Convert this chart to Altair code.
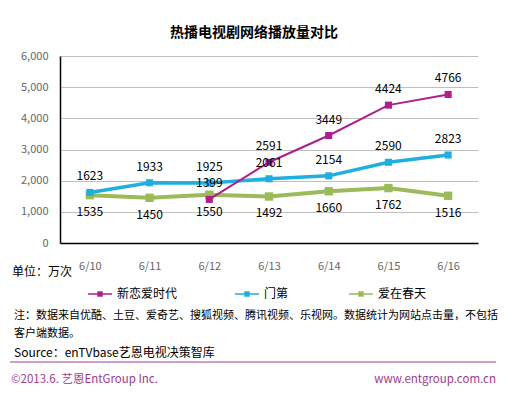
import altair as alt
import pandas as pd

dates = ["6/10", "6/11", "6/12", "6/13", "6/14", "6/15", "6/16"]
series = ["新恋爱时代", "门第", "爱在春天"]
xinlian = [None, None, 1399, 2591, 3449, 4424, 4766]
mendi = [1623, 1933, 1925, 2061, 2154, 2590, 2823]
aizai = [1535, 1450, 1550, 1492, 1660, 1762, 1516]
colors = ["#AE1F8D", "#1FAEE0", "#9BBB59"]
widths = [2, 3.5, 4]
label_dy = [-16, -16, 17]
y_ticks = [0, 1000, 2000, 3000, 4000, 5000, 6000]

title = "热播电视剧网络播放量对比"
unit = "单位：万次"
note1 = "注：数据来自优酷、土豆、爱奇艺、搜狐视频、腾讯视频、乐视网。数据统计为网站点击量，不包括"
note2 = "客户端数据。"
source = "Source：enTVbase艺恩电视决策智库"
foot_left = "©2013.6. 艺恩EntGroup Inc."
foot_right = "www.entgroup.com.cn"

rows = []
for s, vals in zip(series, [xinlian, mendi, aizai]):
    for d, v in zip(dates, vals):
        if v is not None:
            rows.append({"date": d, "series": s, "value": v})
df = pd.DataFrame(rows)

FONT = "Noto Sans CJK SC"
W, H = 418, 187

xenc = alt.X("date:N", sort=dates, scale=alt.Scale(type="point", padding=0.5),
             axis=alt.Axis(title=None, labelColor="#666666", labelFontSize=11, ticks=False,
                           domainColor="#000000", domainWidth=1.5, labelPadding=17,
                           labelAngle=0, labelFont=FONT, grid=False))
yenc = alt.Y("value:Q", scale=alt.Scale(domain=[0, 6000]),
             axis=alt.Axis(title=None, values=y_ticks, format=",.0f", labelColor="#666666",
                           labelFontSize=11, ticks=False, domainColor="#000000", domainWidth=1.5,
                           labelPadding=12, gridColor="#BFBFBF", gridWidth=1, labelFont=FONT))

layers = []
order = [2, 1, 0]
for i in order:
    s = series[i]
    base = alt.Chart(df).transform_filter(alt.datum.series == s).encode(x=xenc, y=yenc)
    layers.append(base.mark_line(color=colors[i], strokeWidth=widths[i]))
    layers.append(base.mark_square(color=colors[i], size=50 if i < 2 else 70, opacity=1))
for i in order:
    s = series[i]
    base = alt.Chart(df).transform_filter(alt.datum.series == s).encode(x=xenc, y=yenc)
    layers.append(base.mark_text(dy=label_dy[i], fontSize=12, color="#000000", font=FONT)
                  .encode(text="value:Q"))


def txt(t, x, y, size=12, color="#000000", align="left", weight="normal"):
    return alt.Chart(pd.DataFrame({"t": [t]})).mark_text(
        align=align, baseline="middle", fontSize=size, color=color, font=FONT, fontWeight=weight
    ).encode(x=alt.value(x), y=alt.value(y), text="t:N")


layers.append(txt(title, W / 2 - 15, -23, size=14, align="center", weight="bold"))
layers.append(txt(unit, -48, 216, size=12))
layers.append(txt(note1, -46, 260, size=11))
layers.append(txt(note2, -46, 278, size=11))
layers.append(txt(source, -46, 297, size=12))
layers.append(txt(foot_left, -49, 324, size=11.5, color="#9E3A8E"))
layers.append(txt(foot_right, 436, 324, size=11.5, color="#9E3A8E", align="right"))
layers.append(alt.Chart(pd.DataFrame({"a": [0]})).mark_rule(color="#9E3A8E", strokeWidth=1)
              .encode(x=alt.value(-50), x2=alt.value(436), y=alt.value(306)))

# legend
leg_x = [28, 175, 289]
leg = pd.DataFrame({"series": series, "lx": leg_x})
leg["lx2"] = leg["lx"] + 24
leg["mx"] = leg["lx"] + 12
leg["tx"] = leg["lx"] + 29
cscale = alt.Scale(domain=series, range=colors)
lb = alt.Chart(leg)
layers.append(lb.mark_rule(strokeWidth=1.5).encode(
    x=alt.X("lx:Q", scale=None), x2="lx2:Q", y=alt.value(238),
    color=alt.Color("series:N", scale=cscale, legend=None)))
layers.append(lb.mark_square(size=30, opacity=1).encode(
    x=alt.X("mx:Q", scale=None), y=alt.value(238),
    color=alt.Color("series:N", scale=cscale, legend=None)))
layers.append(lb.mark_text(align="left", baseline="middle", fontSize=12, font=FONT, color="#000000").encode(
    x=alt.X("tx:Q", scale=None), y=alt.value(238), text="series:N"))

chart = alt.layer(*layers).resolve_scale(color="independent").properties(
    width=W, height=H,
    autosize=alt.AutoSizeParams(type="none"),
    padding={"left": 52, "top": 48, "right": 20, "bottom": 151},
    background="white",
).configure_view(stroke=None)

chart.save("out.html", embed_options={"renderer": "svg", "actions": False})
